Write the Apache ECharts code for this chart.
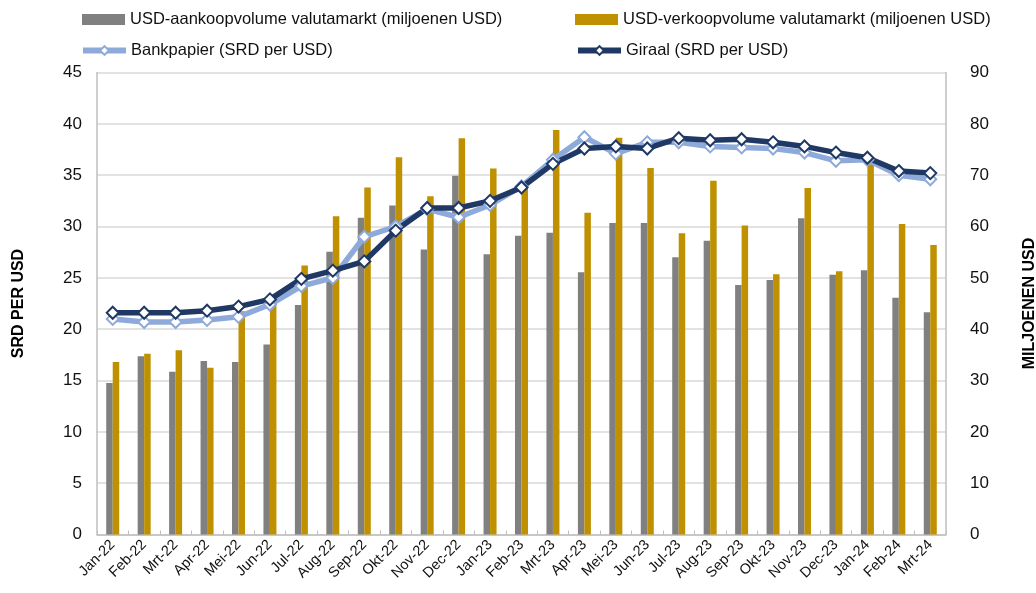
<!DOCTYPE html>
<html>
<head>
<meta charset="utf-8">
<script src="https://cdn.jsdelivr.net/npm/echarts@6/dist/echarts.min.js"></script>
<style>
  html, body { margin: 0; padding: 0; background: #fff; }
  #chart { width: 1036px; height: 593px; }
</style>
</head>
<body>
<div id="chart"></div>
<script>
const categories = ['Jan-22', 'Feb-22', 'Mrt-22', 'Apr-22', 'Mei-22', 'Jun-22', 'Jul-22', 'Aug-22', 'Sep-22',
    'Okt-22', 'Nov-22', 'Dec-22', 'Jan-23', 'Feb-23', 'Mrt-23', 'Apr-23', 'Mei-23', 'Jun-23',
    'Jul-23', 'Aug-23', 'Sep-23', 'Okt-23', 'Nov-23', 'Dec-23', 'Jan-24', 'Feb-24', 'Mrt-24'];

// miljoenen USD (right axis)
const aankoop = [29.5, 34.7, 31.7, 33.8, 33.6, 37.0, 44.7, 55.1, 61.7, 64.1, 55.5, 69.9, 54.6, 58.2,
    58.8, 51.1, 60.7, 60.7, 54.0, 57.2, 48.6, 49.6, 61.6, 50.6, 51.5, 46.1, 43.3];
const verkoop = [33.6, 35.2, 35.9, 32.5, 43.5, 45.3, 52.4, 62.0, 67.6, 73.5, 65.9, 77.2, 71.3, 67.5,
    78.8, 62.7, 77.3, 71.4, 58.7, 68.9, 60.2, 50.7, 67.5, 51.3, 72.8, 60.5, 56.4];

// SRD per USD (left axis)
const bankpapier = [21.0, 20.7, 20.7, 20.9, 21.2, 22.4, 24.2, 25.0, 29.0, 30.0, 31.7, 30.9, 32.1, 33.9,
    36.5, 38.7, 37.1, 38.2, 38.2, 37.8, 37.7, 37.6, 37.2, 36.4, 36.5, 35.0, 34.6];
const giraal = [21.6, 21.6, 21.6, 21.8, 22.2, 22.9, 24.9, 25.7, 26.6, 29.6, 31.8, 31.8, 32.5, 33.8,
    36.1, 37.6, 37.8, 37.6, 38.6, 38.4, 38.5, 38.2, 37.8, 37.2, 36.7, 35.4, 35.2];

const names = [
    'USD-aankoopvolume valutamarkt (miljoenen USD)',
    'USD-verkoopvolume valutamarkt (miljoenen USD)',
    'Bankpapier (SRD per USD)',
    'Giraal (SRD per USD)'
];

const font = 'Liberation Sans, Arial, sans-serif';
const legendText = {fontFamily: font, fontSize: 16.5, color: '#111'};

function legendAt(name, left, top, isLine) {
    return {
        data: [name],
        left: left,
        top: top,
        icon: isLine ? undefined : 'rect',
        itemWidth: 43,
        itemHeight: 11,
        itemGap: 2,
        padding: 0,
        textStyle: legendText,
        lineStyle: isLine ? {width: 6} : undefined
    };
}

const chart = echarts.init(document.getElementById('chart'));

const option = {
    animation: false,
    backgroundColor: '#fff',
    legend: [
        legendAt(names[0], 82, 11, false),
        legendAt(names[1], 575, 11, false),
        legendAt(names[2], 80, 42, true),
        legendAt(names[3], 575, 42, true)
    ],
    grid: {left: 97, right: 90, top: 72.5, bottom: 58.5, outerBoundsMode: 'none', containLabel: false},
    xAxis: {
        type: 'category',
        data: categories,
        axisLine: {lineStyle: {color: '#bfbfbf', width: 1.5}},
        axisTick: {show: true, inside: true, length: 4, lineStyle: {color: '#bfbfbf'}},
        axisLabel: {
            rotate: 45,
            interval: 0,
            margin: 8,
            fontFamily: font,
            fontSize: 14.5,
            color: '#111'
        }
    },
    yAxis: [
        {
            type: 'value',
            min: 0,
            max: 45,
            interval: 5,
            name: 'SRD PER USD',
            nameLocation: 'middle',
            nameRotate: 90,
            nameGap: 70,
            nameTextStyle: {fontFamily: font, fontSize: 16, fontWeight: 'bold', color: '#000'},
            axisLine: {show: true, lineStyle: {color: '#bfbfbf', width: 1.5}},
            axisTick: {show: false},
            axisLabel: {fontFamily: font, fontSize: 17, color: '#111', margin: 15},
            splitLine: {lineStyle: {color: '#d9d9d9', width: 1.5}}
        },
        {
            type: 'value',
            min: 0,
            max: 90,
            interval: 10,
            name: 'MILJOENEN USD',
            nameLocation: 'middle',
            nameRotate: 90,
            nameGap: 76,
            nameTextStyle: {fontFamily: font, fontSize: 16, fontWeight: 'bold', color: '#000'},
            axisLine: {show: true, lineStyle: {color: '#bfbfbf', width: 1.5}},
            axisTick: {show: false},
            axisLabel: {fontFamily: font, fontSize: 17, color: '#111', margin: 24},
            splitLine: {show: false}
        }
    ],
    series: [
        {
            name: names[0],
            type: 'bar',
            yAxisIndex: 1,
            data: aankoop,
            barWidth: 6.5,
            barGap: '0%',
            itemStyle: {color: '#808080'}
        },
        {
            name: names[1],
            type: 'bar',
            yAxisIndex: 1,
            data: verkoop,
            barWidth: 6.5,
            barGap: '0%',
            itemStyle: {color: '#bf9000'}
        },
        {
            name: names[2],
            type: 'line',
            yAxisIndex: 0,
            data: bankpapier,
            symbol: 'diamond',
            symbolSize: 12,
            lineStyle: {color: '#8eaadb', width: 5.5},
            itemStyle: {color: '#fff', borderColor: '#8eaadb', borderWidth: 2}
        },
        {
            name: names[3],
            type: 'line',
            yAxisIndex: 0,
            data: giraal,
            symbol: 'diamond',
            symbolSize: 12,
            lineStyle: {color: '#1f3864', width: 5.5},
            itemStyle: {color: '#fff', borderColor: '#1f3864', borderWidth: 2}
        }
    ]
};

chart.setOption(option);

window.addEventListener('resize', chart.resize.bind(chart));
</script>
</body>
</html>
